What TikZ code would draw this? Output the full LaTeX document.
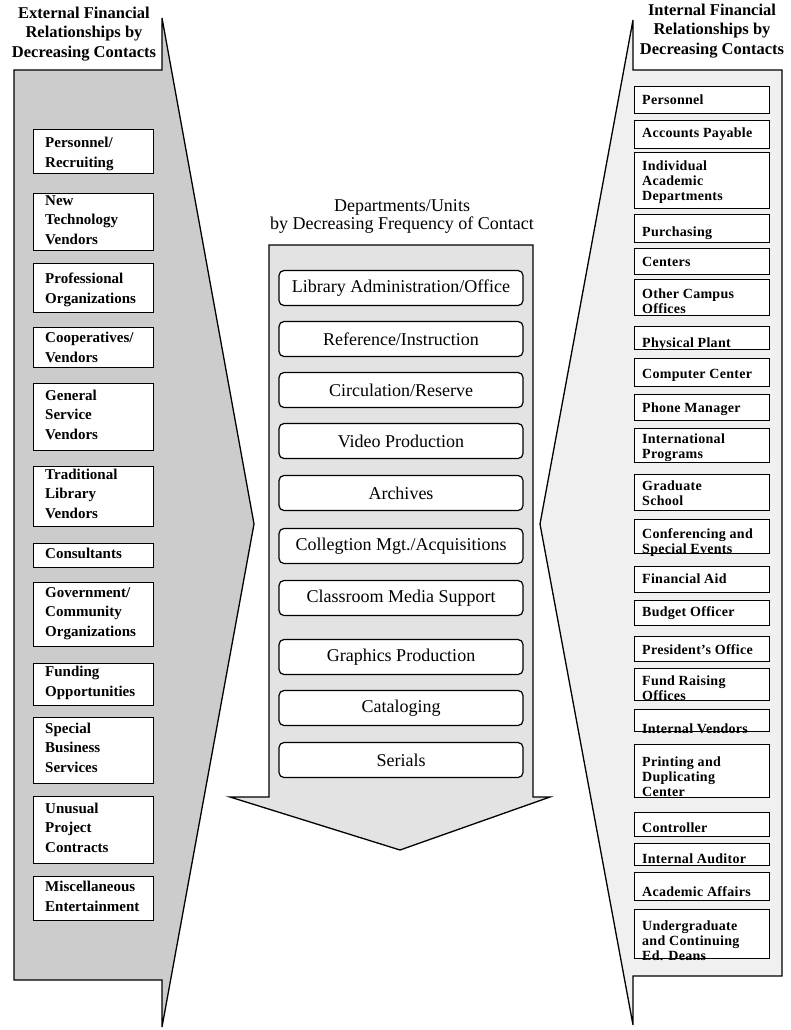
\documentclass[tikz,border=0pt]{standalone}
\usepackage{fontspec}
\setmainfont{Liberation Serif}
\begin{document}
\begin{tikzpicture}[x=1pt,y=-1pt,
  frame/.style={draw=black,line width=1.3pt,line join=miter},
  lfill/.style={fill=black!20},
  mfill/.style={fill=black!11},
  rfill/.style={fill=black!6},
  sqbox/.style={draw=black,fill=white,line width=1.3pt,inner sep=0pt,anchor=north west},
  ltext/.style={anchor=base west,align=left,inner sep=0pt,font=\fontsize{15}{19.5}\selectfont\bfseries},
  rtext/.style={anchor=base west,align=left,inner sep=0pt,font=\fontsize{14}{15}\selectfont\bfseries\addfontfeature{LetterSpace=2}},
  title/.style={align=center,inner sep=0pt,font=\fontsize{16.5}{19.5}\selectfont\bfseries},
  mtitle/.style={align=center,inner sep=0pt,font=\fontsize{18}{18}\selectfont},
  mbox/.style={draw=black,fill=white,line width=1.2pt,rounded corners=5pt,inner sep=0pt,
    minimum width=244pt,minimum height=35pt,font=\fontsize{18}{18}\selectfont}
]
\useasboundingbox (0,0) rectangle (791,1030);
% #4 = baseline of the last text line
\newcommand\lbox[5]{%
  \node[sqbox,minimum width=120pt,minimum height={#3pt-#2pt}] (#1) at (33,#2) {};
  \node[ltext] (#1t) at (45,#4) {#5};}
\newcommand\rbox[5]{%
  \node[sqbox,minimum width=135pt,minimum height={#3pt-#2pt}] (#1) at (634,#2) {};
  \node[rtext] (#1t) at (642,#4) {#5};}

% frames
\path[frame,lfill] (14,70) -- (162,70) -- (162,18) -- (254,524) -- (162,1027) -- (162,980) -- (14,980) -- cycle;
\path[frame,rfill] (782,70) -- (633,70) -- (633,20) -- (540,524) -- (633,1025) -- (633,976) -- (782,976) -- cycle;
\path[frame,mfill] (269,245) -- (533,245) -- (533,797) -- (550,797) -- (400,850) -- (230,797) -- (269,797) -- cycle;

% titles
\node[title] (lt) at (84,34) {External Financial\\Relationships by\\Decreasing Contacts};
\node[title] (rt) at (712,31) {Internal Financial\\Relationships by\\Decreasing Contacts};
\node[mtitle] (mt) at (402,216) {Departments/Units\\by Decreasing Frequency of Contact};

% left boxes
\lbox{l1}{129}{173}{167}{Personnel/\\Recruiting}
\lbox{l2}{193}{250}{244}{New\\Technology\\Vendors}
\lbox{l3}{263}{312}{303}{Professional\\Organizations}
\lbox{l4}{327}{367}{362}{Cooperatives/\\Vendors}
\lbox{l5}{383}{450}{439}{General\\Service\\Vendors}
\lbox{l6}{466}{526}{518}{Traditional\\Library\\Vendors}
\lbox{l7}{543}{567}{558}{Consultants}
\lbox{l8}{582}{646}{636}{Government/\\Community\\Organizations}
\lbox{l9}{663}{705}{696}{Funding\\Opportunities}
\lbox{l10}{717}{783}{772}{Special\\Business\\Services}
\lbox{l11}{796}{863}{852}{Unusual\\Project\\Contracts}
\lbox{l12}{876}{920}{911}{Miscellaneous\\Entertainment}

% middle boxes
\node[mbox] (m1) at (401,288) {Library Administration/Office};
\node[mbox] (m2) at (401,339) {Reference/Instruction};
\node[mbox] (m3) at (401,390) {Circulation/Reserve};
\node[mbox] (m4) at (401,441) {Video Production};
\node[mbox] (m5) at (401,493) {Archives};
\node[mbox] (m6) at (401,546) {Collegtion Mgt./Acquisitions};
\node[mbox] (m7) at (401,598) {Classroom Media Support};
\node[mbox] (m8) at (401,657) {Graphics Production};
\node[mbox] (m9) at (401,708) {Cataloging};
\node[mbox] (m10) at (401,760) {Serials};

% right boxes
\rbox{r1}{86}{113}{105}{Personnel}
\rbox{r2}{120}{148}{137}{Accounts Payable}
\rbox{r3}{152}{208}{200}{Individual\\Academic\\Departments}
\rbox{r4}{214}{242}{236}{Purchasing}
\rbox{r5}{248}{274}{266}{Centers}
\rbox{r6}{279}{315}{313}{Other Campus\\Offices}
\rbox{r7}{326}{349}{347}{Physical Plant}
\rbox{r8}{358}{386}{378}{Computer Center}
\rbox{r9}{394}{420}{412}{Phone Manager}
\rbox{r10}{428}{462}{458}{International\\Programs}
\rbox{r11}{474}{510}{505}{Graduate\\School}
\rbox{r12}{519}{553}{553}{Conferencing and\\Special Events}
\rbox{r13}{566}{592}{583}{Financial Aid}
\rbox{r14}{600}{625}{616}{Budget Officer}
\rbox{r15}{636}{661}{654}{President's Office}
\rbox{r16}{668}{700}{700}{Fund Raising\\Offices}
\rbox{r17}{709}{731}{733}{Internal Vendors}
\rbox{r18}{744}{797}{796}{Printing and\\Duplicating\\Center}
\rbox{r19}{812}{836}{832}{Controller}
\rbox{r20}{843}{865}{863}{Internal Auditor}
\rbox{r21}{872}{900}{896}{Academic Affairs}
\rbox{r22}{909}{958}{960}{Undergraduate\\and Continuing\\Ed. Deans}
\end{tikzpicture}
\end{document}
